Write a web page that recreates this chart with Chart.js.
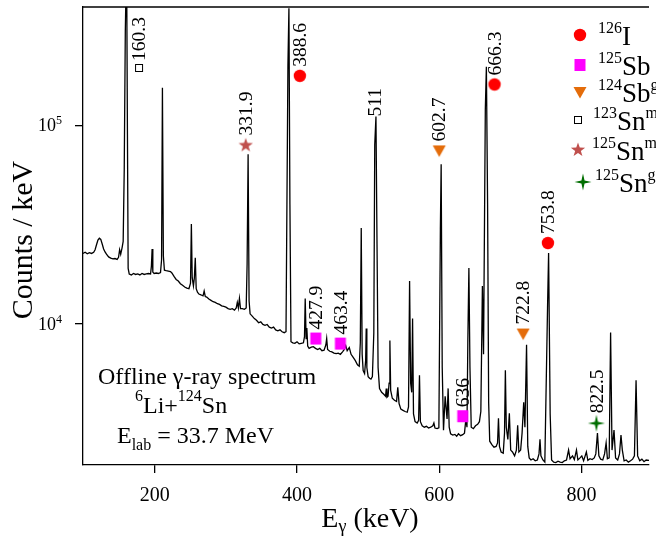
<!DOCTYPE html>
<html lang="en">
<head>
<meta charset="UTF-8">
<title>Offline gamma-ray spectrum</title>
<script src="https://cdn.jsdelivr.net/npm/chart.js"></script>
<style>
  body { margin: 0; background: #fff; }
  canvas { display: block; }
</style>
</head>
<body>
<canvas id="spectrum" width="656" height="537"></canvas>
<script>
// gamma energy (keV) and counts / keV
const energy = [
  99, 102, 105, 108, 111, 114, 116, 118, 120, 122,
  124, 126, 128, 130, 132, 135, 138, 141, 144, 147,
  149, 150.5, 152, 154, 155.5, 157, 158.5, 160.3, 161.5, 162.5,
  164, 167, 170, 173, 176, 179, 182, 185, 188, 191,
  194, 195.2, 196.2, 197.2, 199, 202, 205, 208, 209.5, 210.7,
  212, 213.5, 216, 219, 222, 224, 227, 230, 233, 236,
  239, 242, 245, 248, 250.2, 251.4, 252.6, 254.3, 255.6, 256.9,
  258.2, 260, 262, 264, 266, 267.8, 269.4, 271, 273, 276,
  279, 282, 285, 288, 291, 294, 297, 300, 303, 306,
  309, 312, 314.5, 316, 317.5, 319, 320.5, 323, 326, 328.5,
  329.8, 331.2, 332.6, 334, 337, 340, 343, 346, 349, 352,
  355, 358, 361, 364, 367, 370, 373, 376, 379, 382,
  384.5, 387.2, 388.6, 390, 391.5, 394, 397, 400, 403, 406,
  409, 410.5, 411.5, 412.8, 413.8, 415, 417, 420, 423, 426,
  429, 432, 435, 438, 440.5, 441.7, 443, 446, 449, 452,
  455, 458, 461, 464, 466.5, 468.5, 470.5, 473.5, 476, 479,
  482, 485, 487.5, 489, 490.3, 491.6, 493, 495, 496.5, 497.3,
  498.2, 500, 502, 504, 506, 508, 509.3, 511, 512.5, 514,
  516, 519, 522, 524.5, 525.5, 526.5, 528, 529.5, 530.6, 531.7,
  534, 537, 540, 541.7, 543.5, 546, 549, 552, 555, 556.8,
  558.3, 559.8, 561.3, 562.5, 563.8, 566, 569, 571, 572.2, 573.5,
  576, 579, 582, 585, 588, 591, 592.5, 594, 597, 599.5,
  601.6, 602.7, 604.2, 606, 608.3, 611, 612.5, 614, 616, 619,
  622, 624.5, 627, 630, 633, 635.5, 637.5, 639, 640.2, 641.7,
  643.2, 645, 648, 651, 654, 656.5, 658.5, 660.7, 662.3, 664.8,
  666.3, 668, 669.5, 671, 674, 677, 680, 682, 683.3, 684.7,
  687, 690, 691.8, 693, 694.3, 696.5, 698.6, 700.5, 703, 706,
  708.5, 710.3, 712, 714.5, 716.5, 718.8, 720.5, 722.8, 724.5, 726.5,
  729, 732, 735, 738, 740.3, 741.7, 743, 745.8, 748.5, 752.3,
  753.8, 756, 758, 761, 764, 767, 770, 773, 776, 779,
  781.9, 784, 787.5, 790, 793, 795, 798, 800.5, 803, 806.9,
  809, 812, 815, 818, 820.2, 822.5, 824.5, 827, 830, 832.5,
  834.7, 836.5, 839, 841, 843, 845.8, 848, 851, 853.5, 855.6,
  857.5, 860, 863, 866, 869, 872, 874.5, 876.8, 879, 882,
  885, 888, 891, 895
];
const counts = [
  22600, 22900, 22500, 22800, 22600, 22900, 23600, 25000, 26400, 27000,
  26600, 25200, 23800, 23000, 22400, 21700, 21400, 21200, 21300, 21100,
  21600, 23600, 22400, 24200, 26000, 60000, 300000, 700000, 90000, 19000,
  17800, 17600, 17900, 17700, 17800, 17600, 17900, 17700, 17800, 17900,
  17800, 19500, 23800, 18200, 17900, 18000, 17900, 18100, 21000, 155000,
  22000, 18600, 18500, 18400, 18300, 18000, 17300, 16700, 16400, 15900,
  15600, 15300, 15100, 15000, 16000, 31800, 17000, 15500, 17000, 21500,
  15000, 14400, 14100, 14000, 13900, 13800, 14600, 13700, 13600, 13300,
  13100, 12900, 12800, 12600, 12500, 12300, 12200, 12100, 11900, 11800,
  11900, 11700, 12000, 12800, 12000, 13400, 11900, 11900, 11800, 12000,
  20000, 71500, 13000, 11200, 10900, 10600, 10400, 10100, 10200, 9900,
  9800, 9900, 9600, 9500, 9600, 9300, 9200, 9300, 9100, 9000,
  9100, 200000, 390000, 40000, 8100, 8000, 7950, 8100, 7900, 7950,
  8000, 8600, 13400, 8400, 9500, 7700, 7500, 7600, 7650, 7500,
  7400, 7500, 7300, 7350, 7800, 8400, 7400, 7250, 7200, 7100,
  7050, 7100, 7000, 7200, 7400, 7750, 7300, 7570, 7000, 6750,
  6500, 6200, 6100, 8000, 30400, 7000, 5800, 5600, 6500, 9440,
  6000, 5400, 5300, 5250, 5400, 9000, 80000, 111000, 25000, 6000,
  4700, 4500, 4400, 4300, 4700, 4250, 4300, 5000, 8220, 4600,
  4200, 4100, 4050, 4770, 3950, 3700, 3650, 3600, 3570, 3800,
  16400, 5000, 4500, 10600, 3500, 3200, 3150, 3250, 5480, 3200,
  3050, 3000, 3030, 2970, 3000, 3050, 3150, 2970, 2950, 2980,
  30000, 63700, 6000, 2900, 4300, 3300, 4710, 3000, 2780, 2740,
  2760, 2700, 2780, 2720, 2750, 2800, 3300, 3000, 8000, 19100,
  6000, 3000, 2950, 3050, 3100, 3200, 3600, 15500, 7000, 120000,
  198000, 40000, 4000, 2550, 2450, 2380, 2400, 2500, 3330, 2400,
  2250, 2220, 2800, 5810, 3000, 2600, 3530, 2300, 2250, 2150,
  2300, 3070, 2250, 2300, 2800, 4010, 3000, 7830, 2400, 2100,
  2050, 2080, 2030, 2050, 2200, 2610, 2150, 2050, 2000, 12000,
  22700, 3500, 2050, 2000, 1990, 2020, 2000, 1990, 2030, 2050,
  2300, 2080, 2150, 2060, 2300, 2050, 2100, 2150, 2030, 2250,
  2040, 2080, 2060, 2100, 2200, 2800, 2150, 2070, 2050, 2200,
  2500, 2080, 2100, 9010, 2300, 2900, 2100, 2050, 2200, 2740,
  2300, 2030, 2050, 2000, 2030, 2070, 2150, 5180, 2150, 2030,
  2070, 2010, 2050, 2040
];

// marked lines: marker position (keV, counts) and the peak energy printed above it
const i126E = [404, 677.8, 752.8];
const i126C = [178000, 161000, 25500];
const i126Peaks = ['388.6', '666.3', '753.8'];
const sb125E = [426.4, 461, 633];
const sb125C = [8410, 7930, 3410];
const sb125Peaks = ['427.9', '463.4', '636'];
const sb124gE = [600, 718];
const sb124gC = [74800, 8910];
const sb124gPeaks = ['602.7', '722.8'];
const sn123mE = [177.8];
const sn123mC = [195000];
const sn123mPeaks = ['160.3'];
const sn125mE = [327.8];
const sn125mC = [79300];
const sn125mPeaks = ['331.9'];
const sn125gE = [821];
const sn125gC = [3140];
const sn125gPeaks = ['822.5'];
// annihilation line, labelled without a marker
const annihE = [509.5];
const annihC = [111000];
const annihPeaks = ['511'];

// legend entries
const nuclideMass = ['126', '125', '124', '123', '125', '125'];
const nuclideSym = ['I', 'Sb', 'Sb', 'Sn', 'Sn', 'Sn'];
const nuclideState = ['', '', 'g', 'm', 'm', 'g'];

const xTicks = [200, 400, 600, 800];
const yTicks = [1e4, 1e5];

const FONT = '"Liberation Serif", "Times New Roman", serif';

// little canvases used as point styles (and in the legend)
function markerCanvas(kind, color) {
  const c = document.createElement('canvas');
  c.width = 20; c.height = 20;
  const g = c.getContext('2d');
  g.translate(10, 10);
  g.fillStyle = color;
  g.strokeStyle = color;
  g.beginPath();
  if (kind === 'circle') {
    g.arc(0, 0, 6.2, 0, 2 * Math.PI);
    g.fill();
  } else if (kind === 'square') {
    g.fillRect(-5.5, -6, 11, 12);
  } else if (kind === 'tri') {
    g.moveTo(-6.5, -5); g.lineTo(6.5, -5); g.lineTo(0, 6.5); g.closePath();
    g.fill();
  } else if (kind === 'open') {
    g.fillStyle = '#fff';
    g.fillRect(-4, -4, 8, 8);
    g.lineWidth = 1;
    g.strokeRect(-3.5, -3.5, 7, 7);
  } else {
    const n = kind === 'star5' ? 5 : 4;
    const ro = n === 5 ? 7.5 : 8.5, ri = n === 5 ? 3 : 2.2;
    for (let i = 0; i < 2 * n; i++) {
      const r = i % 2 ? ri : ro;
      const a = -Math.PI / 2 + i * Math.PI / n;
      g.lineTo(r * Math.cos(a), r * Math.sin(a));
    }
    g.closePath();
    g.fill();
  }
  return c;
}

const mCircle = markerCanvas('circle', '#ff0000');
const mSquare = markerCanvas('square', '#ff00ff');
const mTri = markerCanvas('tri', '#e46c0a');
const mOpen = markerCanvas('open', '#000000');
const mStar = markerCanvas('star5', '#c0504d');
const mStar4 = markerCanvas('star4', '#006e00');

function pts(xs, ys) {
  return xs.map((v, i) => ({ x: v, y: ys[i] }));
}

function markerSet(xs, ys, style) {
  return { data: pts(xs, ys), pointStyle: style, pointRadius: 6, showLine: false };
}

// draws a run of text pieces [text, size, dy] on one baseline
function rich(ctx, x, y, parts, align) {
  ctx.textAlign = 'left';
  ctx.textBaseline = 'alphabetic';
  let total = 0;
  const w = parts.map(p => {
    ctx.font = p[1] + 'px ' + FONT;
    const m = ctx.measureText(p[0]).width;
    total += m;
    return m;
  });
  if (align === 'center') x -= total / 2;
  parts.forEach((p, i) => {
    ctx.font = p[1] + 'px ' + FONT;
    ctx.fillText(p[0], x, y + p[2]);
    x += w[i];
  });
}

const decor = {
  id: 'decor',
  afterDraw(chart) {
    const ctx = chart.ctx;
    const a = chart.chartArea;
    const xs = chart.scales.x, ys = chart.scales.y;
    ctx.save();
    ctx.strokeStyle = '#000';
    ctx.lineWidth = 1.3;
    ctx.beginPath();
    ctx.moveTo(a.left, a.top);
    ctx.lineTo(a.right, a.top);
    ctx.stroke();
    ctx.fillStyle = '#000';

    // y tick labels as powers of ten
    yTicks.forEach(v => {
      const py = ys.getPixelForValue(v);
      rich(ctx, 38, py + 6, [['10', 18, 0], [String(Math.round(Math.log10(v))), 12, -7]]);
    });

    // axis titles
    ctx.save();
    ctx.translate(32, 240);
    ctx.rotate(-Math.PI / 2);
    ctx.font = '30px ' + FONT;
    ctx.textAlign = 'center';
    ctx.textBaseline = 'alphabetic';
    ctx.fillText('Counts / keV', 0, 0);
    ctx.restore();
    rich(ctx, 370, 527, [['E', 28, 0], ['γ', 18, 5], [' (keV)', 28, 0]], 'center');

    // reaction note
    rich(ctx, 98, 384, [['Offline γ-ray spectrum', 24, 0]]);
    rich(ctx, 135, 413, [['6', 16, -12], ['Li+', 24, 0], ['124', 16, -12], ['Sn', 24, 0]]);
    rich(ctx, 117, 443, [['E', 24, 0], ['lab', 16, 7], [' = 33.7 MeV', 24, 0]]);

    // peak energies, written upwards
    const groups = [
      [i126E, i126C, i126Peaks, 9], [sb125E, sb125C, sb125Peaks, 9],
      [sb124gE, sb124gC, sb124gPeaks, 9], [sn123mE, sn123mC, sn123mPeaks, 7],
      [sn125mE, sn125mC, sn125mPeaks, 10], [sn125gE, sn125gC, sn125gPeaks, 10],
      [annihE, annihC, annihPeaks, 0]
    ];
    ctx.font = '19.5px ' + FONT;
    groups.forEach(([ex, cy, txt, gap]) => {
      txt.forEach((t, i) => {
        ctx.save();
        ctx.translate(xs.getPixelForValue(ex[i]) + 1, ys.getPixelForValue(cy[i]) - gap);
        ctx.rotate(-Math.PI / 2);
        ctx.textAlign = 'left';
        ctx.textBaseline = 'middle';
        ctx.fillText(t, 0, 0);
        ctx.restore();
      });
    });

    // legend
    const marks = [mCircle, mSquare, mTri, mOpen, mStar, mStar4];
    const mx = [580, 580, 580, 578, 578, 583];
    const tx = [598, 598, 598, 593, 592, 595];
    const base = [45, 75, 102, 130, 160, 192];
    marks.forEach((m, i) => {
      ctx.drawImage(m, mx[i] - 10, base[i] - 10 - 10);
      rich(ctx, tx[i], base[i], [
        [nuclideMass[i], 16, -12], [nuclideSym[i], 27, 0], [nuclideState[i], 16, -12]
      ]);
    });
    ctx.restore();
  }
};

new Chart(document.getElementById('spectrum'), {
  type: 'scatter',
  data: {
    datasets: [
      markerSet(i126E, i126C, mCircle),
      markerSet(sb125E, sb125C, mSquare),
      markerSet(sb124gE, sb124gC, mTri),
      markerSet(sn123mE, sn123mC, mOpen),
      markerSet(sn125mE, sn125mC, mStar),
      markerSet(sn125gE, sn125gC, mStar4),
      {
        data: pts(energy, counts),
        showLine: true,
        borderColor: '#000',
        borderWidth: 1.3,
        pointRadius: 0,
        tension: 0
      }
    ]
  },
  options: {
    responsive: false,
    animation: false,
    layout: { padding: { top: 5, right: 0, left: 0, bottom: 0 } },
    plugins: { legend: { display: false }, tooltip: { enabled: false } },
    scales: {
      x: {
        type: 'linear',
        min: 99,
        max: 895,
        afterBuildTicks: s => { s.ticks = xTicks.map(v => ({ value: v })); },
        afterFit: s => { s.height = 72; },
        ticks: { color: '#000', font: { family: FONT, size: 20 }, padding: 11, maxRotation: 0, autoSkip: false },
        grid: { drawOnChartArea: false, tickLength: 8, color: '#000', lineWidth: 1.3 },
        border: { color: '#000', width: 1.3 }
      },
      y: {
        type: 'logarithmic',
        min: 1934,
        max: 396000,
        afterBuildTicks: s => { s.ticks = yTicks.map(v => ({ value: v })); },
        afterFit: s => { s.width = 83; },
        ticks: { display: false },
        grid: { drawOnChartArea: false, tickLength: 8, color: '#000', lineWidth: 1.3 },
        border: { color: '#000', width: 1.3 }
      }
    }
  },
  plugins: [decor]
});
</script>
</body>
</html>
